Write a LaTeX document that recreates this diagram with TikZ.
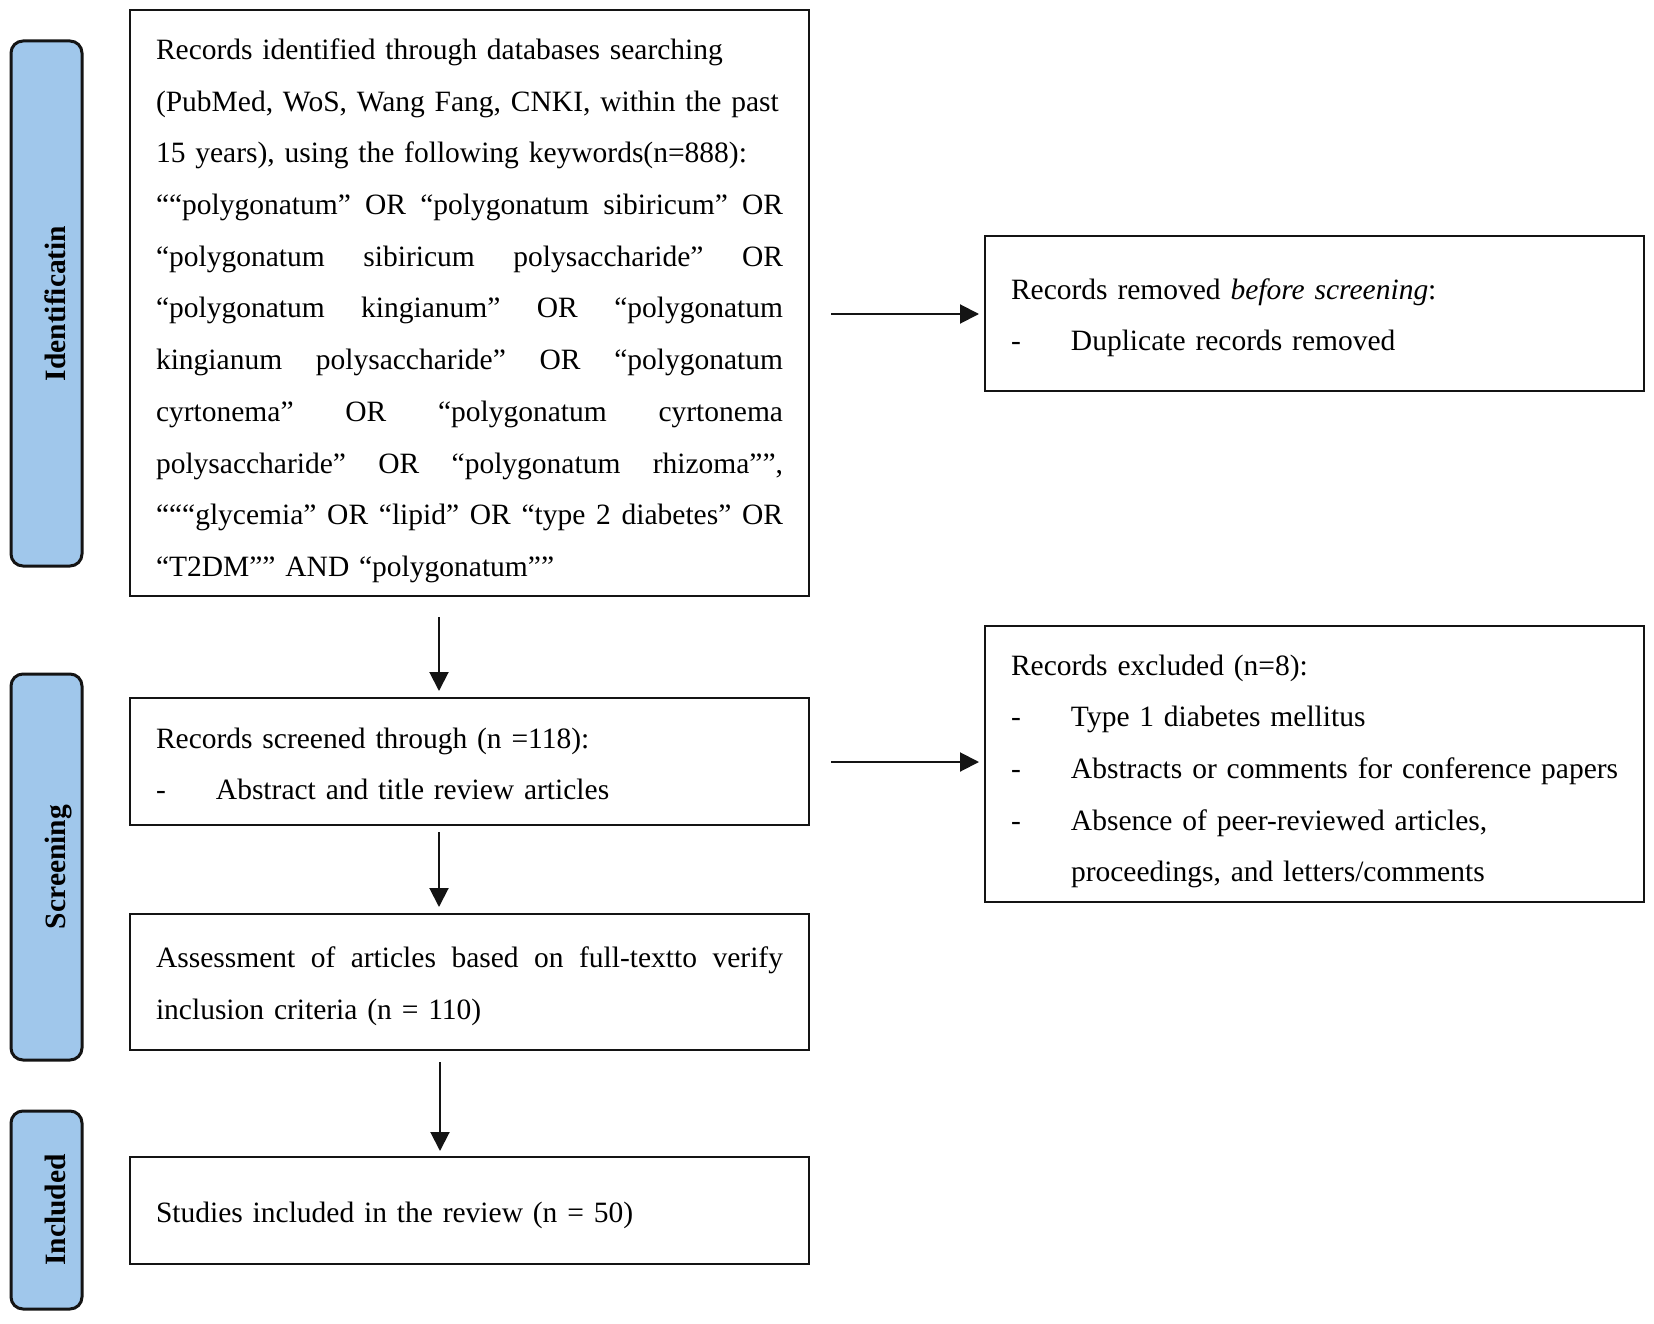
\documentclass[tikz,border=0pt]{standalone}
\usepackage{fontspec}
\setmainfont{Liberation Serif}
\usetikzlibrary{arrows.meta}
\setlength{\parindent}{0pt}
\definecolor{tabblue}{RGB}{160,199,235}
\definecolor{edge}{RGB}{20,20,20}
\newcommand\jl[1]{\leavevmode\hbox to 627pt{#1}}
\newcommand\dd{\makebox[60pt][l]{-}}
\newcommand\gap{\hfill}
\begin{document}
\begin{tikzpicture}[x=1pt,y=-1pt,
  every node/.style={inner sep=0pt, outer sep=0pt},
  box/.style={draw=edge, line width=2.8pt, anchor=north west},
  tab/.style={draw=edge, line width=3pt, fill=tabblue, rounded corners=12pt, anchor=north west},
  txt/.style={anchor=base west, font=\fontsize{29.5}{51.7}\selectfont, align=left},
  tabtxt/.style={anchor=base, rotate=90, font=\fontsize{29.5}{35}\selectfont\bfseries},
  arr/.style={line width=2pt, draw=edge, -{Triangle[length=19pt,width=19pt]}}]
\useasboundingbox (0,0) rectangle (1654,1324);
\fill[white] (0,0) rectangle (1654,1324);

% side tabs
\node[tab, minimum width=71pt, minimum height=525pt] (tid) at (11,41) {};
\node[tab, minimum width=71pt, minimum height=386pt] (tsc) at (11,674) {};
\node[tab, minimum width=71pt, minimum height=198pt] (tin) at (11,1111) {};
\node[tabtxt] (lid) at (65,303.5) {Identificatin};
\node[tabtxt] (lsc) at (65,867) {Screening};
\node[tabtxt] (lin) at (65,1210) {Included};

% boxes
\node[box, minimum width=679pt, minimum height=586pt] (main) at (130,10) {};
\node[box, minimum width=659pt, minimum height=155pt] (rb1) at (985,236) {};
\node[box, minimum width=679pt, minimum height=127pt] (scr) at (130,698) {};
\node[box, minimum width=659pt, minimum height=276pt] (rb2) at (985,626) {};
\node[box, minimum width=679pt, minimum height=136pt] (ass) at (130,914) {};
\node[box, minimum width=679pt, minimum height=107pt] (stu) at (130,1157) {};

% texts
\node[txt, text width=627pt] (tmain) at (156,59.5) {%
Records identified through databases searching\\
(PubMed, WoS, Wang Fang, CNKI, within the past\\
15 years), using the following keywords(n=888):\\
\jl{““polygonatum”\gap OR\gap “polygonatum\gap sibiricum”\gap OR}\\
\jl{“polygonatum\gap sibiricum\gap polysaccharide”\gap OR}\\
\jl{“polygonatum\gap kingianum”\gap OR\gap “polygonatum}\\
\jl{kingianum\gap polysaccharide”\gap OR\gap “polygonatum}\\
\jl{cyrtonema”\gap OR\gap “polygonatum\gap cyrtonema}\\
\jl{polysaccharide”\gap OR\gap “polygonatum\gap rhizoma””,}\\
\jl{“““glycemia”\gap OR\gap “lipid”\gap OR\gap “type\gap 2\gap diabetes”\gap OR}\\
“T2DM”” AND “polygonatum””};

\node[txt, text width=620pt] (trb1) at (1011,299) {%
Records removed \textit{before screening}:\\
\dd Duplicate records removed};

\node[txt, text width=620pt] (trb2) at (1011,675) {%
Records excluded (n=8):\\
\dd Type 1 diabetes mellitus\\
\dd Abstracts or comments for conference papers\\
\dd Absence of peer-reviewed articles,\\
\hspace*{60pt}proceedings, and letters/comments};

\node[txt, text width=627pt] (tscr) at (156,748) {%
Records screened through (n =118):\\
\dd Abstract and title review articles};

\node[txt, text width=627pt] (tass) at (156,967.5) {%
\jl{Assessment\gap of\gap articles\gap based\gap on\gap full-textto\gap verify}\\
inclusion criteria (n = 110)};

\node[txt, text width=627pt] (tstu) at (156,1222.5) {%
Studies included in the review (n = 50)};

% connectors
\coordinate (h1) at (831,314);
\coordinate (h2) at (831,762);
\coordinate (v1) at (439,617);
\coordinate (v2) at (439,832);
\coordinate (v3) at (440,1062);
\draw[arr, shorten >=6pt] (h1) -- (h1 -| rb1.west);
\draw[arr, shorten >=6pt] (h2) -- (h2 -| rb2.west);
\draw[arr, shorten >=7pt] (v1) -- (v1 |- scr.north);
\draw[arr, shorten >=7pt] (v2) -- (v2 |- ass.north);
\draw[arr, shorten >=6pt] (v3) -- (v3 |- stu.north);
\end{tikzpicture}
\end{document}
